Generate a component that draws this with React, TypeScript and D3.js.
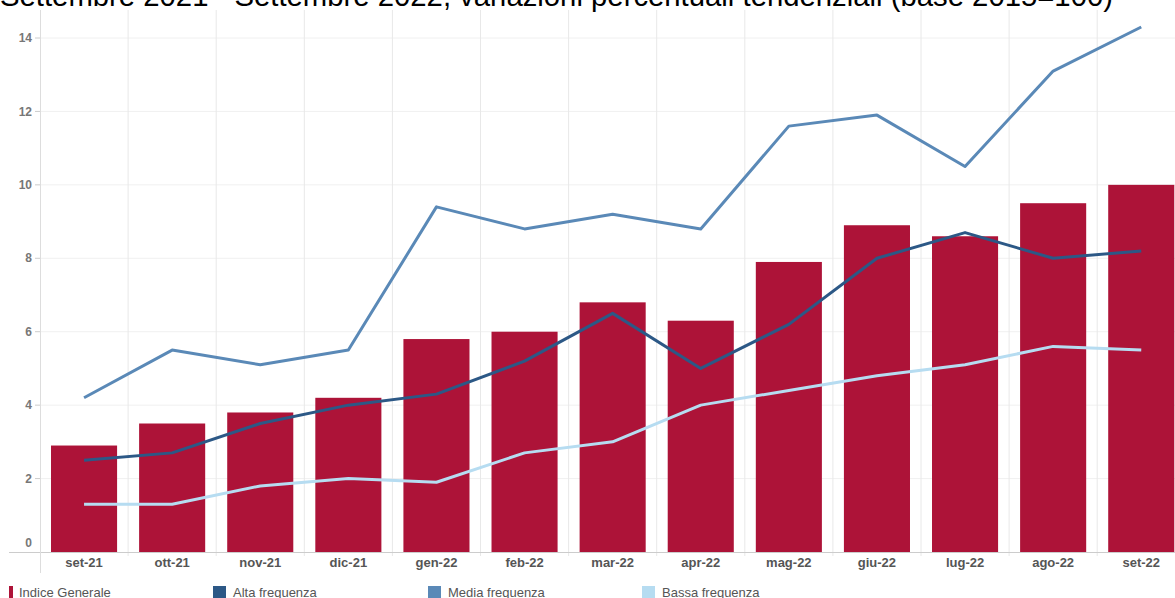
import React, { useEffect, useRef } from 'react';
import * as d3 from 'd3';

const months = ['set-21', 'ott-21', 'nov-21', 'dic-21', 'gen-22', 'feb-22', 'mar-22', 'apr-22', 'mag-22', 'giu-22', 'lug-22', 'ago-22', 'set-22'];
const indiceGenerale = [2.9, 3.5, 3.8, 4.2, 5.8, 6.0, 6.8, 6.3, 7.9, 8.9, 8.6, 9.5, 10.0];
const altaFrequenza = [2.5, 2.7, 3.5, 4.0, 4.3, 5.2, 6.5, 5.0, 6.2, 8.0, 8.7, 8.0, 8.2];
const mediaFrequenza = [4.2, 5.5, 5.1, 5.5, 9.4, 8.8, 9.2, 8.8, 11.6, 11.9, 10.5, 13.1, 14.3];
const bassaFrequenza = [1.3, 1.3, 1.8, 2.0, 1.9, 2.7, 3.0, 4.0, 4.4, 4.8, 5.1, 5.6, 5.5];
const yTicks = [0, 2, 4, 6, 8, 10, 12, 14];

const title = 'Settembre 2021 - Settembre 2022, variazioni percentuali tendenziali (base 2015=100)';

const lineSeries = [
  { name: 'Alta frequenza', values: altaFrequenza, color: '#2c5886' },
  { name: 'Media frequenza', values: mediaFrequenza, color: '#5a89b7' },
  { name: 'Bassa frequenza', values: bassaFrequenza, color: '#b6dcf1' },
];
const barColor = '#ad1338';

export default function App() {
  const ref = useRef<SVGSVGElement>(null);

  useEffect(() => {
    const svg = d3.select(ref.current);
    svg.selectAll('*').remove();

    const left = 40;
    const band = 88.1;
    const right = left + band * months.length;
    const top = 10;
    const bottom = 552;

    const x = d3.scaleBand().domain(months).range([left, right]).paddingInner(0.25).paddingOuter(0.125);
    const y = d3.scaleLinear().domain([0, 14]).range([bottom, 38]);
    const font = 'Liberation Sans, Arial, sans-serif';

    // title
    svg.append('text')
      .attr('x', 0).attr('y', 6)
      .attr('font-family', font).attr('font-size', 30).attr('fill', '#000')
      .attr('textLength', 1113).attr('lengthAdjust', 'spacingAndGlyphs')
      .text(title);

    // horizontal grid
    svg.append('g').selectAll('line').data(yTicks.filter(d => d > 0)).join('line')
      .attr('x1', left).attr('x2', right)
      .attr('y1', d => y(d)).attr('y2', d => y(d))
      .attr('stroke', '#f0f0f0').attr('stroke-width', 1);

    // vertical grid
    const bounds = d3.range(1, months.length).map(i => left + i * band);
    svg.append('g').selectAll('line').data(bounds).join('line')
      .attr('x1', d => d).attr('x2', d => d)
      .attr('y1', top).attr('y2', bottom + 4)
      .attr('stroke', '#e8e8e8').attr('stroke-width', 1);

    // bars
    svg.append('g').selectAll('rect').data(indiceGenerale).join('rect')
      .attr('x', (d, i) => x(months[i])!)
      .attr('width', x.bandwidth())
      .attr('y', d => y(d))
      .attr('height', d => y(0) - y(d))
      .attr('fill', barColor);

    // axes lines
    svg.append('line')
      .attr('x1', 9).attr('x2', right).attr('y1', bottom + 0.5).attr('y2', bottom + 0.5)
      .attr('stroke', '#ccc');
    svg.append('line')
      .attr('x1', left + 0.5).attr('x2', left + 0.5).attr('y1', top).attr('y2', 573)
      .attr('stroke', '#ddd');

    // y ticks + labels
    const yAxis = svg.append('g');
    yAxis.selectAll('line').data(yTicks.filter(d => d > 0)).join('line')
      .attr('x1', 35).attr('x2', left).attr('y1', d => y(d)).attr('y2', d => y(d))
      .attr('stroke', '#ccc');
    yAxis.selectAll('text').data(yTicks).join('text')
      .attr('x', 32)
      .attr('y', d => (d === 0 ? y(d) - 9 : y(d)))
      .attr('dy', '0.35em')
      .attr('text-anchor', 'end')
      .attr('font-family', font).attr('font-size', 12).attr('font-weight', 'bold')
      .attr('fill', '#777')
      .text(d => d);

    // x labels
    svg.append('g').selectAll('text').data(months).join('text')
      .attr('x', d => x(d)! + x.bandwidth() / 2)
      .attr('y', 567)
      .attr('text-anchor', 'middle')
      .attr('font-family', font).attr('font-size', 13).attr('font-weight', 'bold')
      .attr('fill', '#555')
      .text(d => d);

    // lines
    const line = d3.line<number>()
      .x((d, i) => x(months[i])! + x.bandwidth() / 2)
      .y(d => y(d));
    lineSeries.forEach(s => {
      svg.append('path')
        .datum(s.values)
        .attr('fill', 'none')
        .attr('stroke', s.color)
        .attr('stroke-width', 3)
        .attr('stroke-linejoin', 'round')
        .attr('d', line);
    });

    // legend
    const legend = [
      { name: 'Indice Generale', color: barColor, x: 9, w: 4 },
      { name: 'Alta frequenza', color: lineSeries[0].color, x: 213, w: 13 },
      { name: 'Media frequenza', color: lineSeries[1].color, x: 428, w: 13 },
      { name: 'Bassa frequenza', color: lineSeries[2].color, x: 642, w: 13 },
    ];
    const lg = svg.append('g');
    legend.forEach(l => {
      lg.append('rect').attr('x', l.x).attr('y', 586).attr('width', l.w).attr('height', 13).attr('fill', l.color);
      lg.append('text')
        .attr('x', l.x + l.w + (l.w < 10 ? 6 : 7)).attr('y', 597)
        .attr('font-family', font).attr('font-size', 13).attr('fill', '#555')
        .text(l.name);
    });
  }, []);

  return (
    <div style={{ position: 'absolute', left: 0, top: 0, width: 1175, height: 598, overflow: 'hidden', background: '#fff' }}>
      <svg ref={ref} width={1175} height={598} style={{ display: 'block' }} />
    </div>
  );
}
